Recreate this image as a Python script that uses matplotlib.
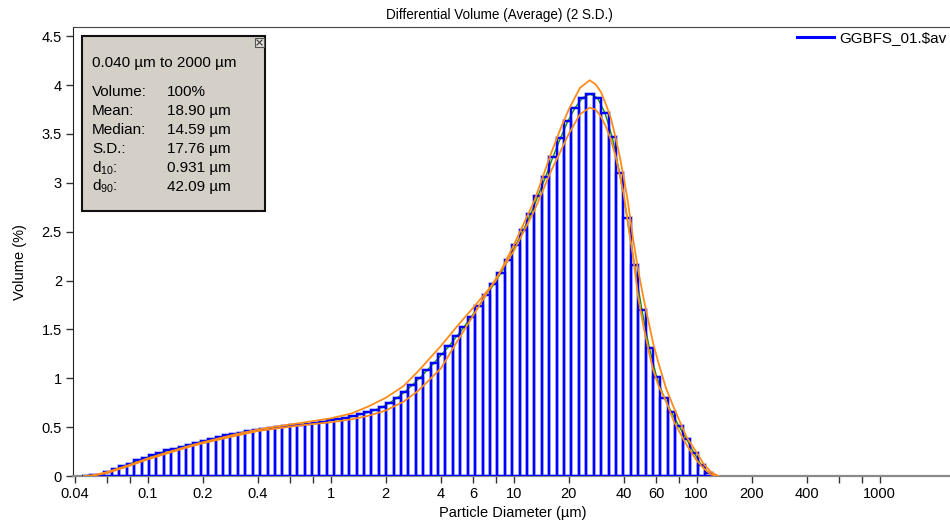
import numpy as np
import matplotlib
matplotlib.use("Agg")
import matplotlib.pyplot as plt
from matplotlib.patches import Rectangle
from matplotlib.lines import Line2D
from matplotlib.ticker import FixedLocator, FixedFormatter, FuncFormatter

plt.rcParams['font.family'] = ['Liberation Sans', 'DejaVu Sans']
plt.rcParams['mathtext.fontset'] = 'custom'
plt.rcParams['mathtext.rm'] = 'Liberation Sans'
plt.rcParams['mathtext.it'] = 'Liberation Sans'

# Instrument channels: 116 log-spaced channels from 0.04 to 2000 um
channel_edges = np.geomspace(0.04, 2000.0, 117)

# Average differential volume (%) for channels 0..86 (rest are empty)
volume_pct = [0.0, 0.004, 0.007, 0.015, 0.039, 0.067, 0.10, 0.125, 0.159, 0.183,
              0.21, 0.234, 0.261, 0.278, 0.299, 0.319, 0.34, 0.36, 0.377, 0.398,
              0.418, 0.432, 0.445, 0.459, 0.469, 0.48, 0.49, 0.50, 0.51, 0.517,
              0.527, 0.534, 0.544, 0.555, 0.568, 0.58, 0.595, 0.61, 0.63, 0.65,
              0.675, 0.705, 0.75, 0.80, 0.86, 0.93, 1.00, 1.08, 1.16, 1.245,
              1.33, 1.43, 1.525, 1.63, 1.74, 1.855, 1.96, 2.08, 2.215, 2.365,
              2.515, 2.68, 2.87, 3.06, 3.265, 3.455, 3.63, 3.77, 3.87, 3.91,
              3.87, 3.72, 3.465, 3.10, 2.645, 2.16, 1.70, 1.31, 1.01, 0.80,
              0.65, 0.51, 0.38, 0.24, 0.115, 0.03, 0.0]

# +/- 2 S.D. envelope curves
sd_sizes = [0.045, 0.05, 0.06, 0.07, 0.08, 0.1, 0.13, 0.17, 0.2, 0.3,
            0.4, 0.5, 0.7, 1.0, 1.3, 1.6, 2.0, 2.5, 3.0, 4.0,
            5.0, 6.0, 8.0, 10, 13, 16, 18, 20, 23, 26,
            28, 30, 32, 34, 36, 38, 40, 42, 45, 48,
            51, 55, 58, 62, 68, 75, 88, 100, 109, 120, 131]
sd_upper = [0.0, 0.006, 0.04, 0.08, 0.115, 0.18, 0.245, 0.31, 0.345, 0.425,
            0.475, 0.505, 0.545, 0.59, 0.64, 0.71, 0.80, 0.92, 1.07, 1.33,
            1.55, 1.72, 2.00, 2.36, 2.82, 3.30, 3.55, 3.75, 3.97, 4.05,
            4.01, 3.93, 3.80, 3.66, 3.47, 3.27, 3.05, 2.82, 2.42, 2.10,
            1.84, 1.55, 1.35, 1.15, 0.90, 0.70, 0.40, 0.24, 0.125, 0.04, 0.0]
sd_lower = [0.0, 0.004, 0.03, 0.07, 0.105, 0.17, 0.235, 0.30, 0.335, 0.41,
            0.46, 0.485, 0.52, 0.55, 0.58, 0.615, 0.67, 0.76, 0.87, 1.10,
            1.40, 1.64, 2.02, 2.30, 2.72, 3.12, 3.32, 3.50, 3.70, 3.77,
            3.75, 3.68, 3.57, 3.44, 3.28, 3.08, 2.88, 2.60, 2.24, 1.82,
            1.55, 1.26, 1.08, 0.92, 0.77, 0.56, 0.32, 0.16, 0.08, 0.015, 0.0]

x_major = [0.04, 0.06, 0.08, 0.1, 0.2, 0.4, 0.6, 0.8, 1, 2, 4, 6, 8, 10, 20, 40,
           60, 80, 100, 200, 400, 600, 800, 1000]
x_labels = ['0.04', '', '', '0.1', '0.2', '0.4', '', '', '1', '2', '4', '6', '', '10',
            '20', '40', '60', '', '100', '200', '400', '', '', '1000']

stats_labels = ['Volume:', 'Mean:', 'Median:', 'S.D.:', r'd$_{10}$:', r'd$_{90}$:']
stats_values = ['100%', '18.90 µm', '14.59 µm', '17.76 µm', '0.931 µm', '42.09 µm']

W, H = 950, 522
fig = plt.figure(figsize=(W / 100, H / 100), dpi=100)
ax = fig.add_axes([73 / W, 46 / H, 876 / W, 449 / H])

vol = np.array(volume_pct)
n = len(vol)
lefts = channel_edges[:n]
widths = channel_edges[1:n + 1] - channel_edges[:n]
centers = np.sqrt(channel_edges[:n] * channel_edges[1:n + 1])
mask = vol > 0

# halo, mean line, then the bar outlines on top
ax.bar(lefts[mask], vol[mask], width=widths[mask], align='edge', fill=False,
       edgecolor='#c2c6ff', linewidth=2.6, zorder=2)
ax.plot(centers[mask], vol[mask], color='#1a8a1a', linewidth=1.0, zorder=3)
ax.bar(lefts[mask], vol[mask], width=widths[mask], align='edge', fill=False,
       edgecolor='#0000ff', linewidth=1.6, zorder=4)

ax.plot(sd_sizes, sd_upper, color='#ff8c1a', linewidth=1.3, zorder=5)
ax.plot(sd_sizes, sd_lower, color='#ff8c1a', linewidth=1.3, zorder=5)

ax.set_xscale('log')
ax.set_xlim(0.0391, 2393)
ax.set_ylim(0, 4.595)
ax.xaxis.set_major_locator(FixedLocator(x_major))
ax.xaxis.set_major_formatter(FixedFormatter(x_labels))
ax.xaxis.set_minor_locator(FixedLocator([]))
ax.set_yticks(np.arange(0, 4.51, 0.5))
ax.yaxis.set_major_formatter(FuncFormatter(lambda v, p: f'{v:g}'))
ax.tick_params(axis='both', direction='out', length=5, width=1, color='#333333',
               labelsize=10.5, pad=3)

ax.spines['right'].set_visible(False)
ax.spines['left'].set_color('#222222')
ax.spines['top'].set_color('#444444')
ax.spines['bottom'].set_color('#8a8a8a')
ax.spines['bottom'].set_linewidth(1.6)

fig.text(513 / W, 1 - 513 / H, 'Particle Diameter (µm)', ha='center', va='center', fontsize=10.5)
fig.text(20 / W, 1 - 262 / H, 'Volume (%)', ha='center', va='center', rotation=90, fontsize=10.5)
fig.text(499 / W, 1 - 15 / H, 'Differential Volume (Average) (2 S.D.)', ha='center',
         va='center', fontsize=9.75)

# legend
ax.legend(handles=[Line2D([], [], color='#0000ff', linewidth=2.2)], labels=['GGBFS_01.$av'],
          loc='upper right', bbox_to_anchor=(947 / W, 1 - 31 / H), bbox_transform=fig.transFigure,
          frameon=False, fontsize=11, handlelength=2.4, handletextpad=0.4,
          borderaxespad=0, borderpad=0)

# statistics box
box = Rectangle((82 / W, 1 - 211 / H), 183 / W, 175 / H, transform=fig.transFigure,
                facecolor='#d4d0c8', edgecolor='#111111', linewidth=1.5, zorder=10)
fig.add_artist(box)
btn = Rectangle((255 / W, 1 - 47 / H), 9 / W, 9 / H, transform=fig.transFigure,
                facecolor='#e4e2dc', edgecolor='#555555', linewidth=0.8, zorder=11)
fig.add_artist(btn)
for (x0, y0, x1, y1) in [(257, 40, 262, 45), (257, 45, 262, 40)]:
    fig.add_artist(Line2D([x0 / W, x1 / W], [1 - y0 / H, 1 - y1 / H], transform=fig.transFigure,
                          color='#333333', linewidth=0.8, zorder=12))

fig.text(92 / W, 1 - 63 / H, '0.040 µm to 2000 µm', ha='left', va='center', fontsize=11, zorder=12)
row_y = [91.7, 110.7, 130, 149, 168.3, 186.7]
for lab, val, yy in zip(stats_labels, stats_values, row_y):
    fig.text(92 / W, 1 - yy / H, lab, ha='left', va='center', fontsize=11, zorder=12)
    fig.text(166.7 / W, 1 - yy / H, val, ha='left', va='center', fontsize=11, zorder=12)

fig.savefig('out.png', dpi=100)
